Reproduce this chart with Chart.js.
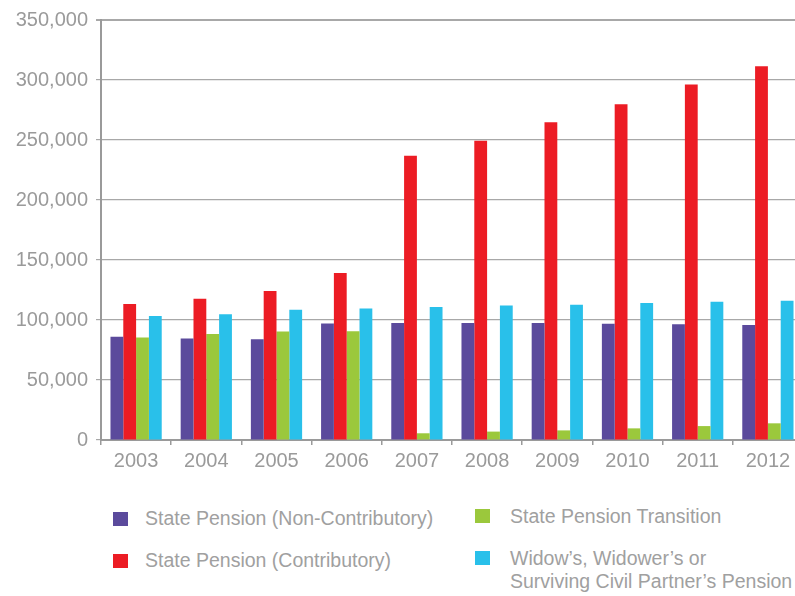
<!DOCTYPE html>
<html>
<head>
<meta charset="utf-8">
<script src="https://cdn.jsdelivr.net/npm/chart.js@4"></script>
<style>
  html, body { margin: 0; padding: 0; background: #fff; overflow: hidden; }
  body { width: 795px; height: 596px; position: relative; }
  #wrap { position: absolute; left: 0; top: 0; width: 803px; height: 480px; }
  .leg { position: absolute; font-family: "Liberation Sans", Arial, sans-serif;
         font-size: 19.5px; color: #a0a0a0; line-height: 23.5px; white-space: nowrap; }
  .leg i { position: absolute; left: 0; width: 15px; height: 14px; }
  .leg span { position: absolute; top: 0; }
</style>
</head>
<body>
<div id="wrap"><canvas id="chart"></canvas></div>
<div id="legend"></div>
<script>
const byId = id => document.getElementById(id);

const years = ["2003", "2004", "2005", "2006", "2007", "2008", "2009", "2010", "2011", "2012"];
const nonContributory = [86000, 84500, 84000, 97000, 97600, 97600, 97600, 96800, 96500, 95900];
const contributory = [113400, 117800, 124200, 139200, 236900, 249400, 264700, 279700, 296300, 311500];
const transition = [85500, 88400, 90400, 90600, 5600, 7000, 8000, 9700, 11600, 13900];
const widows = [103400, 104800, 108600, 109500, 110900, 112000, 112800, 114200, 115300, 116100];

const seriesNames = [
    "State Pension (Non-Contributory)",
    "State Pension (Contributory)",
    "State Pension Transition",
    "Widow\u2019s, Widower\u2019s or|Surviving Civil Partner\u2019s Pension"
];
const colors = ["#5b4a9c", "#ec1c24", "#9bc83c", "#29c0ea"];

const axisGray = "#9a9a9a";
const tickFont = {family: "'Liberation Sans', Arial, sans-serif", size: 20};

function makeDataset(i, data) {
    return {
        label: seriesNames[i].replace("|", " "),
        data,
        backgroundColor: colors[i],
        borderWidth: 0,
        categoryPercentage: 0.73,
        barPercentage: 1
    };
}

new Chart(byId("chart"), {
    type: "bar",
    data: {
        labels: years,
        datasets: [
            makeDataset(0, nonContributory),
            makeDataset(1, contributory),
            makeDataset(2, transition),
            makeDataset(3, widows)
        ]
    },
    options: {
        responsive: true,
        maintainAspectRatio: false,
        animation: false,
        layout: {padding: {top: 19, left: 0, right: 0, bottom: 0}},
        plugins: {
            legend: {display: false},
            tooltip: {enabled: false}
        },
        scales: {
            x: {
                grid: {
                    drawOnChartArea: false,
                    drawTicks: true,
                    tickLength: 5,
                    color: axisGray,
                    lineWidth: 1.5
                },
                border: {display: true, color: axisGray, width: 2},
                ticks: {color: axisGray, font: tickFont, padding: 4},
                afterFit: s => { s.height = 40; }
            },
            y: {
                min: 0,
                max: 350000,
                grid: {
                    color: "#a8a8a8",
                    lineWidth: ctx => ctx.tick && ctx.tick.value === 350000 ? 2 : 1.2,
                    tickLength: 5
                },
                border: {display: true, color: axisGray, width: 2},
                ticks: {
                    stepSize: 50000,
                    color: axisGray,
                    font: tickFont,
                    padding: 8,
                    callback: v => v.toLocaleString("en-US")
                },
                afterFit: s => { s.width = 101; }
            }
        }
    }
});

// legend, two columns: [left, top, text offset, square offset]
const legendPos = [
    [113, 507, 32, 5],
    [113, 549, 32, 4.5],
    [475, 505, 35, 3.5],
    [475, 546.5, 35, 4.5]
];
seriesNames.forEach((name, i) => {
    const p = legendPos[i];
    const el = document.createElement("div");
    el.className = "leg";
    el.style.left = p[0] + "px";
    el.style.top = p[1] + "px";
    el.innerHTML = '<i style="top:' + p[3] + 'px;background:' + colors[i] + '"></i>' +
        '<span style="left:' + p[2] + 'px">' + name.split("|").join("<br>") + "</span>";
    byId("legend").appendChild(el);
});
</script>
</body>
</html>
